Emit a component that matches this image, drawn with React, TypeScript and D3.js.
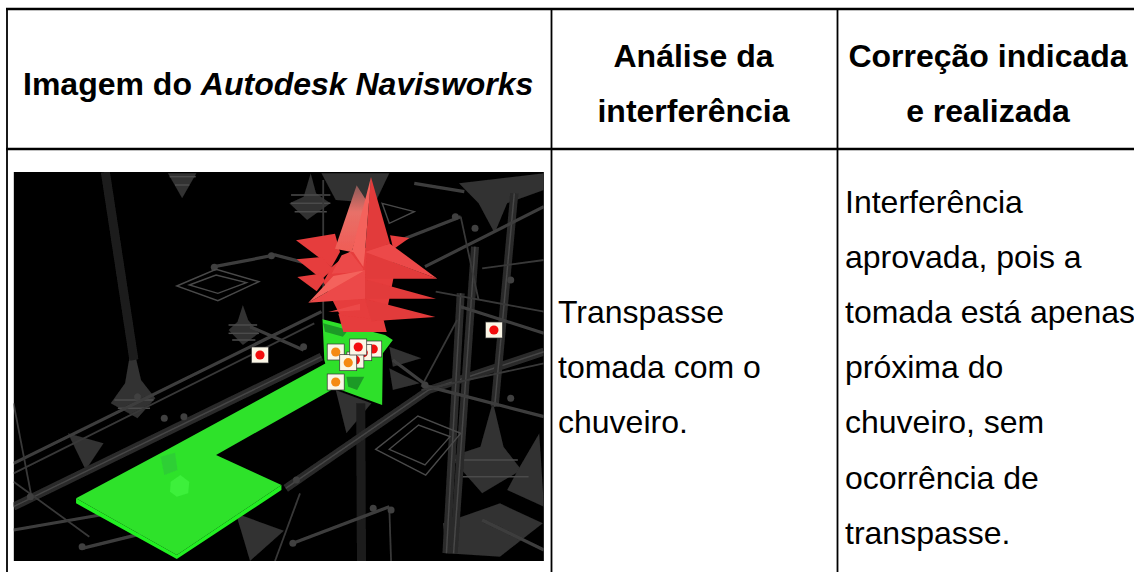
import React from 'react';
import * as d3 from 'd3';

type Pt = [number, number];

// header + cell text
const headerPlain = 'Imagem do ';
const headerItalic = 'Autodesk Navisworks';
const headerAnalise = ['Análise da', 'interferência'];
const headerCorrecao = ['Correção indicada', 'e realizada'];
const analiseLines = ['Transpasse', 'tomada com o', 'chuveiro.'];
const correcaoLines = [
  'Interferência',
  'aprovada, pois a',
  'tomada está apenas',
  'próxima do',
  'chuveiro, sem',
  'ocorrência de',
  'transpasse.',
];

// screenshot content in picture units (2.8 per px across, 3 down)
const frameCorners: Pt[] = [[38, 36], [1523, 1203]];

const pipesDim: Pt[][] = [
  [[295, 36], [375, 600]],
  [[1010, 730], [1012, 1203]],
];
const pipesThick: Pt[][] = [
  [[38, 1040], [900, 590]],
  [[800, 985], [1200, 690], [1523, 575]],
  [[1330, 260], [1270, 1180]],
  [[1290, 400], [1250, 1180]],
  [[1440, 100], [1385, 740]],
];
const pipesMid: Pt[][] = [
  [[38, 910], [900, 455]],
  [[38, 1110], [280, 1065]],
  [[1100, 250], [1290, 170]],
  [[1190, 320], [1523, 140]],
  [[1100, 600], [1200, 680], [1523, 770]],
  [[700, 500], [850, 570]],
  [[1290, 440], [1523, 520]],
  [[820, 1150], [1090, 1040]],
  [[1523, 1170], [1350, 1080]],
  [[230, 1165], [400, 1120]],
  [[600, 320], [770, 285], [860, 310]],
  [[1160, 70], [1300, 95]],
];
const pipesThin: Pt[][] = [
  [[38, 940], [880, 490]],
  [[38, 730], [90, 1020]],
  [[38, 965], [250, 1130]],
  [[1180, 680], [1280, 480]],
  [[1220, 395], [1523, 455]],
  [[1350, 325], [1523, 300]],
  [[1290, 170], [1340, 420]],
  [[840, 1000], [770, 1203]],
  [[1180, 690], [1523, 610]],
  [[905, 60], [905, 480]],
  [[1090, 1040], [1095, 1203]],
];
const pipeNodes: Pt[] = [
  [600, 322], [760, 287], [1275, 170], [1330, 205], [820, 1150], [1045, 1045], [1095, 1050],
  [1430, 715], [1190, 675], [830, 960], [460, 775], [515, 770], [85, 1010], [385, 710],
  [230, 1160], [850, 560], [1430, 360],
];

const spindles: Pt[][] = [
  [[370, 545], [350, 670], [310, 730], [385, 775], [435, 715], [395, 660]],
  [[680, 435], [665, 485], [640, 510], [680, 555], [725, 520], [695, 480]],
  [[870, 40], [850, 110], [810, 130], [860, 180], [925, 130], [885, 100]],
  [[1380, 725], [1345, 860], [1260, 890], [1350, 1000], [1460, 930], [1410, 860]],
  [[1510, 820], [1450, 930], [1420, 990], [1523, 1040]],
  [[470, 40], [550, 40], [510, 115]],
  [[660, 1060], [795, 1112], [700, 1203], [680, 1130]],
  [[1285, 70], [1523, 40], [1523, 90], [1420, 130], [1385, 220], [1340, 130]],
  [[1240, 1090], [1400, 1030], [1520, 1090], [1400, 1190], [1250, 1180]],
  [[940, 690], [1040, 730], [970, 820]],
  [[1090, 560], [1180, 595], [1100, 620]],
  [[1090, 625], [1175, 670], [1100, 690]],
  [[900, 40], [1090, 40], [1050, 130], [940, 120]],
  [[190, 820], [290, 850], [240, 930]],
];
const spindleRibs: Pt[][] = [
  [[815, 105], [925, 105]], [[815, 130], [925, 130]], [[825, 155], [915, 155]],
  [[640, 495], [720, 495]], [[640, 520], [725, 520]], [[650, 540], [715, 540]],
  [[475, 50], [548, 50]], [[490, 75], [530, 75]],
  [[1290, 950], [1480, 950]], [[1270, 900], [1450, 900]],
  [[320, 720], [430, 720]], [[330, 745], [420, 745]],
];

const diamonds: Pt[][] = [
  [[495, 378], [605, 328], [725, 365], [610, 422]],
  [[530, 375], [605, 345], [690, 368], [610, 400]],
  [[1052, 868], [1170, 768], [1290, 820], [1192, 945]],
  [[1090, 868], [1172, 795], [1260, 830], [1190, 915]],
  [[1070, 130], [1160, 155], [1090, 190]],
];

const greenPlateSide: Pt[] = [[213, 1015], [495, 1185], [788, 975], [788, 990], [495, 1197], [213, 1030]];
const greenPlate: Pt[] = [[213, 1015], [470, 868], [920, 605], [928, 690], [605, 885], [788, 975], [495, 1185]];
const greenBoxTop: Pt[] = [[450, 890], [490, 878], [497, 930], [460, 945]];
const greenBoxBase: Pt[] = [[478, 965], [505, 945], [530, 965], [527, 1000], [495, 1010], [476, 995]];
const greenWall: Pt[] = [[903, 478], [1078, 525], [1100, 540], [1072, 580], [1070, 735], [930, 680], [908, 600]];
const greenWallShade: Pt[][] = [
  [[905, 490], [975, 510], [960, 530], [910, 515]],
  [[970, 650], [1020, 650], [1000, 690], [975, 680]],
];

const starBackLit: Pt[][] = [
  [[200, 40], [135, 230], [185, 240], [232, 90]],
];
const starBack: Pt[][] = [
  [[18, 205], [135, 185], [150, 240], [125, 285]],
  [[20, 262], [95, 255], [130, 290], [95, 322]],
  [[22, 315], [90, 305], [105, 325], [80, 358]],
  [[358, 198], [300, 190], [310, 232]],
  [[145, 425], [280, 440], [290, 480], [160, 480]],
  [[125, 285], [185, 235], [300, 215], [310, 320], [285, 445], [150, 430], [100, 330]],
];
const starFrontDark: Pt[][] = [
  [[225, 320], [442, 320], [230, 240]],
  [[225, 380], [438, 380], [225, 322]],
  [[225, 380], [436, 435], [245, 448]],
  [[243, 15], [300, 215], [225, 240]],
];
const starFrontMid: Pt[][] = [
  [[442, 320], [300, 215], [225, 240]],
  [[55, 392], [225, 380], [225, 295]],
  [[115, 420], [210, 395], [210, 415]],
  [[125, 305], [155, 250], [180, 240], [220, 290], [215, 300]],
];
const starFrontLit: Pt[][] = [
  [[243, 15], [185, 240], [225, 240]],
  [[55, 392], [130, 312], [225, 295]],
  [[190, 240], [225, 240], [220, 285]],
];

const markersRed: Pt[] = [[728, 585], [1383, 510], [1045, 567]];
const markersHidden: Pt[] = [[1017, 578], [995, 600]];
const markersOrange: Pt[] = [[940, 576], [940, 666]];
const markerTopRed: Pt = [1003, 561];
const markerTopOrange: Pt = [975, 608];

const W = 1134;
const H = 572;
const x = d3.scaleLinear().domain([0, 1568]).range([0, 560]);
const y = d3.scaleLinear().domain([0, 1236]).range([160, 572]);
const line = d3.line<Pt>().x(d => x(d[0])).y(d => y(d[1]));
const poly = (p: Pt[]) => (line(p) ?? '') + 'Z';
const sx = d3.scaleLinear().domain([0, 480]).range([290, 450]);
const sy = d3.scaleLinear().domain([0, 480]).range([172, 332]);
const starLine = d3.line<Pt>().x(d => sx(d[0])).y(d => sy(d[1]));
const star = (p: Pt[]) => (starLine(p) ?? '') + 'Z';

const FONT = '"Liberation Sans", Arial, sans-serif';
const headBase = [67, 122];

export default function App() {
  const [[fx0, fy0], [fx1, fy1]] = frameCorners;
  const marker = (p: Pt, color: string, key: string) => (
    <g key={key}>
      <rect x={x(p[0]) - 8.5} y={y(p[1]) - 8} width={17} height={16} fill="#fbf6e6" stroke="#333" strokeWidth={0.7} />
      <circle cx={x(p[0])} cy={y(p[1])} r={4.6} fill={color} />
    </g>
  );
  return (
    <svg width={W} height={H} style={{ position: 'absolute', left: 0, top: 0, background: '#fff' }} fontFamily={FONT}>
      <defs>
        <clipPath id="shot">
          <rect x={x(fx0)} y={y(fy0)} width={x(fx1) - x(fx0)} height={y(fy1) - y(fy0)} />
        </clipPath>
        <linearGradient id="spikeBackLit" x1="0" y1="0" x2="0" y2="1">
          <stop offset="0" stopColor="#8a5a58" />
          <stop offset="0.4" stopColor="#e87068" />
          <stop offset="1" stopColor="#f05c56" />
        </linearGradient>
        <filter id="soft"><feGaussianBlur stdDeviation="0.5" /></filter>
      </defs>

      {/* screenshot */}
      <g clipPath="url(#shot)">
        <rect x={x(fx0)} y={y(fy0)} width={x(fx1) - x(fx0)} height={y(fy1) - y(fy0)} fill="#000" />
        <g filter="url(#soft)">
          {spindles.map((p, i) => <path key={i} d={poly(p)} fill="#303030" />)}
          {spindleRibs.map((p, i) => <path key={i} d={line(p) ?? ''} stroke="#4c4c4c" strokeWidth={1.5} />)}
          {pipesDim.map((p, i) => <path key={i} d={line(p) ?? ''} fill="none" stroke="#1e1e1e" strokeWidth={9} />)}
          {pipesThick.map((p, i) => (
            <g key={i}>
              <path d={line(p) ?? ''} fill="none" stroke="#2a2a2a" strokeWidth={8} />
              <path d={line(p) ?? ''} fill="none" stroke="#464646" strokeWidth={1.5} />
            </g>
          ))}
          {pipesMid.map((p, i) => <path key={i} d={line(p) ?? ''} fill="none" stroke="#3e3e3e" strokeWidth={3.2} />)}
          {pipesThin.map((p, i) => <path key={i} d={line(p) ?? ''} fill="none" stroke="#383838" strokeWidth={1.8} />)}
          {pipeNodes.map((p, i) => <circle key={i} cx={x(p[0])} cy={y(p[1])} r={3.5} fill="#3f3f3f" />)}
          {diamonds.map((p, i) => <path key={i} d={poly(p)} fill="none" stroke="#4a4a4a" strokeWidth={1.4} />)}

          <path d={poly(greenPlateSide)} fill="#22f022" />
          <path d={poly(greenPlate)} fill="#2de22b" />
          <path d={poly(greenWall)} fill="#2fe02c" />
          {greenWallShade.map((p, i) => <path key={i} d={poly(p)} fill="#1f9a25" />)}
          <path d={poly(greenBoxTop)} fill="#2fcf35" />
          <path d={poly(greenBoxBase)} fill="#3cf03a" />

          {starBack.map((p, i) => <path key={i} d={star(p)} fill="#e63c3c" />)}
          {starBackLit.map((p, i) => <path key={i} d={star(p)} fill="url(#spikeBackLit)" />)}
          {starFrontDark.map((p, i) => <path key={i} d={star(p)} fill="#e23a3a" />)}
          {starFrontMid.map((p, i) => <path key={i} d={star(p)} fill="#ec4a48" />)}
          {starFrontLit.map((p, i) => <path key={i} d={star(p)} fill="#f4625c" />)}
        </g>

        {markersRed.map((p, i) => marker(p, '#f20d0d', `r${i}`))}
        {markersHidden.map((p, i) => marker(p, '#f20d0d', `h${i}`))}
        {markersOrange.map((p, i) => marker(p, '#f58a12', `o${i}`))}
        {marker(markerTopOrange, '#f58a12', 'to')}
        {marker(markerTopRed, '#f20d0d', 'tr')}
      </g>

      {/* table rules */}
      <g stroke="#000">
        <line x1={6} x2={W} y1={9} y2={9} strokeWidth={2.5} />
        <line x1={6} x2={W} y1={149} y2={149} strokeWidth={2.5} />
        <line x1={7} x2={7} y1={8} y2={H} strokeWidth={1.8} />
        <line x1={551.5} x2={551.5} y1={8} y2={H} strokeWidth={1.8} />
        <line x1={837.5} x2={837.5} y1={8} y2={H} strokeWidth={1.8} />
      </g>

      {/* header */}
      <g fontSize={32} fontWeight="bold" fill="#000">
        <text x={23} y={95}>{headerPlain}<tspan fontStyle="italic">{headerItalic}</tspan></text>
        {headerAnalise.map((t, i) => <text key={t} x={693.5} y={headBase[i]} textAnchor="middle">{t}</text>)}
        {headerCorrecao.map((t, i) => <text key={t} x={988} y={headBase[i]} textAnchor="middle">{t}</text>)}
      </g>

      {/* body */}
      <g fontSize={32} fill="#000">
        {analiseLines.map((t, i) => <text key={t} x={558} y={323 + i * 55.1}>{t}</text>)}
        {correcaoLines.map((t, i) => <text key={t} x={845} y={213 + i * 55.1}>{t}</text>)}
      </g>
    </svg>
  );
}
